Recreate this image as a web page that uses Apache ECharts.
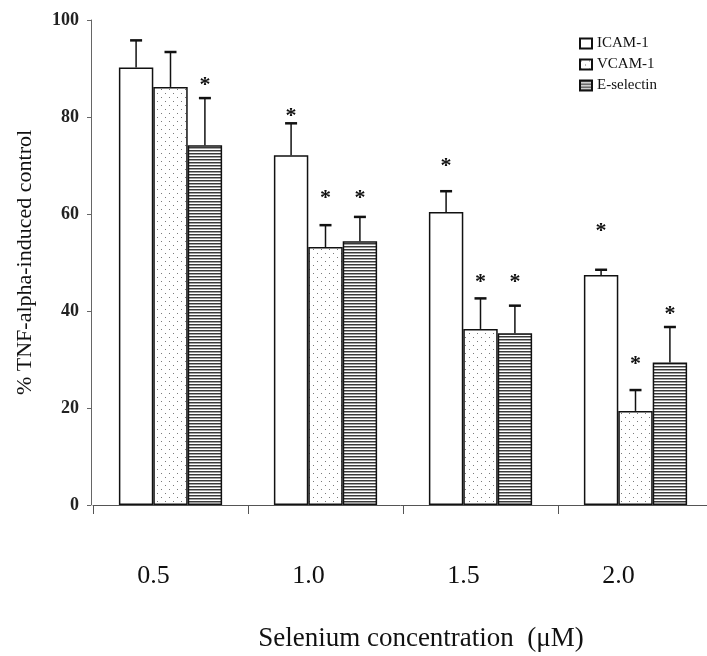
<!DOCTYPE html>
<html>
<head>
<meta charset="utf-8">
<script src="https://cdn.jsdelivr.net/npm/echarts@6/dist/echarts.min.js"></script>
<style>
  html, body { margin: 0; padding: 0; background: #fff; }
  #chart { width: 707px; height: 656px; }
</style>
</head>
<body>
<div id="chart"></div>
<script>
// data
const categories = ['0.5', '1.0', '1.5', '2.0'];
const names = ['ICAM-1', 'VCAM-1', 'E-selectin'];
const icam = [90.2, 72.1, 60.4, 47.4];
const vcam = [86.2, 53.2, 36.3, 19.4];
const esel = [74.2, 54.4, 35.4, 29.4];
// upper error (SD)
const icamErr = [5.6, 6.6, 4.3, 1.1];
const vcamErr = [7.2, 4.5, 6.3, 4.3];
const eselErr = [9.7, 5.0, 5.7, 7.3];
// where the significance stars sit (null = no star)
const icamStar = [null, 81.2, 70.9, 57.5];
const vcamStar = [null, 64.3, 47.0, 30.0];
const eselStar = [87.5, 64.3, 47.0, 40.4];
const yTicks = [0, 20, 40, 60, 80, 100];

const serif = 'Liberation Serif, Times New Roman, serif';

// fill patterns
function dots() {
  const c = document.createElement('canvas');
  c.width = 8; c.height = 8;
  const g = c.getContext('2d');
  g.fillStyle = '#fff'; g.fillRect(0, 0, 8, 8);
  g.fillStyle = '#7a7a7a';
  g.fillRect(1, 1, 1, 1);
  g.fillRect(5, 5, 1, 1);
  return c;
}
function stripes() {
  const c = document.createElement('canvas');
  c.width = 4; c.height = 3;
  const g = c.getContext('2d');
  g.fillStyle = '#fff'; g.fillRect(0, 0, 4, 3);
  g.fillStyle = '#3a3a3a'; g.fillRect(0, 0, 4, 1);
  g.fillStyle = '#a0a0a0'; g.fillRect(0, 1, 4, 1);
  return c;
}

const fills = ['#ffffff', { image: dots(), repeat: 'repeat' }, { image: stripes(), repeat: 'repeat' }];
const means = [icam, vcam, esel];
const errs = [icamErr, vcamErr, eselErr];
const stars = [icamStar, vcamStar, eselStar];
const BAR = 0.222;

const errData = [];
const starData = [];
means.forEach((m, s) => {
  m.forEach((v, i) => {
    errData.push([i, v + errs[s][i], s, v]);
    if (stars[s][i] != null) starData.push([i, stars[s][i], s]);
  });
});

function barX(api, ci, si) {
  const band = api.size([1, 0])[0];
  return api.coord([ci, 0])[0] + (si - 1) * band * BAR;
}

const chart = echarts.init(document.getElementById('chart'));

const option = {
  animation: false,
  backgroundColor: '#fff',
  legend: {
    orient: 'vertical',
    left: 574,
    top: 31,
    icon: 'rect',
    itemWidth: 12,
    itemHeight: 10,
    itemGap: 6,
    data: names,
    textStyle: { fontFamily: serif, fontSize: 15, color: '#111' }
  },
  grid: { left: 93, width: 620, top: 20, bottom: 151, outerBoundsMode: 'none' },
  xAxis: {
    type: 'category',
    data: categories,
    boundaryGap: true,
    axisLine: { lineStyle: { color: '#555', width: 1 } },
    axisTick: { show: true, length: 9, lineStyle: { color: '#555' } },
    axisLabel: {
      margin: 58,
      fontFamily: serif,
      fontSize: 26,
      color: '#111',
      padding: [0, 34, 0, 0]
    },
    name: 'Selenium concentration  (\u03bcM)',
    nameLocation: 'middle',
    nameGap: 120,
    nameTextStyle: { fontFamily: serif, fontSize: 27, color: '#111', padding: [0, 0, 0, 36] },
    splitLine: { show: false }
  },
  yAxis: {
    type: 'value',
    offset: 2,
    min: yTicks[0],
    max: yTicks[yTicks.length - 1],
    interval: 20,
    axisLine: { show: true, lineStyle: { color: '#666', width: 1 } },
    axisTick: { show: true, length: 4, lineStyle: { color: '#666' } },
    axisLabel: { margin: 12, fontFamily: serif, fontSize: 18, fontWeight: 'bold', color: '#222' },
    splitLine: { show: false },
    name: '% TNF-alpha-induced control',
    nameLocation: 'middle',
    nameGap: 55,
    nameTextStyle: { fontFamily: serif, fontSize: 22, color: '#111' }
  },
  series: names.map((n, s) => ({
    name: n,
    type: 'bar',
    data: means[s],
    barWidth: (BAR * 100) + '%',
    barGap: '0%',
    itemStyle: { color: fills[s], borderColor: '#111', borderWidth: 1.5 }
  })).concat([
    {
      type: 'custom',
      data: errData,
      z: 5,
      renderItem: function (params, api) {
        const ci = api.value(0), top = api.value(1), si = api.value(2), m = api.value(3);
        const x = barX(api, ci, si);
        const y0 = api.coord([ci, m])[1];
        const y1 = api.coord([ci, top])[1];
        return {
          type: 'group',
          children: [
            { type: 'line', shape: { x1: x, y1: y0, x2: x, y2: y1 }, style: { stroke: '#111', lineWidth: 1.5 } },
            { type: 'line', shape: { x1: x - 6, y1: y1, x2: x + 6, y2: y1 }, style: { stroke: '#111', lineWidth: 2.5 } }
          ]
        };
      }
    },
    {
      type: 'custom',
      data: starData,
      z: 5,
      renderItem: function (params, api) {
        const ci = api.value(0), lv = api.value(1), si = api.value(2);
        const x = barX(api, ci, si);
        const y = api.coord([ci, lv])[1];
        return {
          type: 'text',
          style: {
            text: '*', x: x, y: y + 5,
            align: 'center', verticalAlign: 'middle',
            fontFamily: serif, fontSize: 22, fontWeight: 'bold', fill: '#111'
          }
        };
      }
    }
  ])
};

chart.setOption(option);
window.addEventListener('resize', function () { chart.resize(); });
</script>
</body>
</html>
